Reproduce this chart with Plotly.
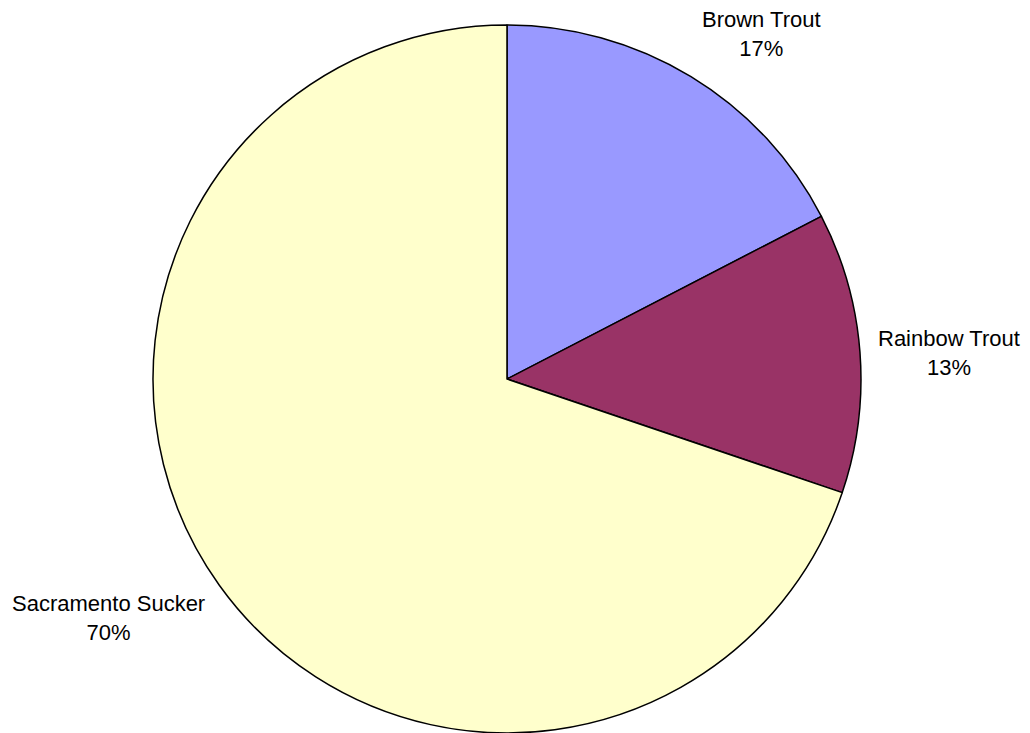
import plotly.graph_objects as go

species = ["Brown Trout", "Rainbow Trout", "Sacramento Sucker"]
shares = [17.4, 12.8, 69.8]
colors = ["#9999FF", "#993366", "#FFFFCC"]
label_x = [0.7431, 0.9285, 0.0996]
label_y = [0.9873, 0.5367, 0.1631]

fig = go.Figure(go.Pie(
    labels=species,
    values=shares,
    sort=False,
    direction="clockwise",
    rotation=0,
    textinfo="none",
    hoverinfo="label+percent",
    marker=dict(colors=colors, line=dict(color="black", width=1.5)),
    domain=dict(x=[0.1430, 0.8412], y=[0, 1]),
    showlegend=False,
))

total = sum(shares)
for name, v, x, y in zip(species, shares, label_x, label_y):
    fig.add_annotation(
        x=x, y=y, xref="paper", yref="paper",
        text=f"{name}<br>{round(100 * v / total)}%",
        showarrow=False, align="center",
        xanchor="center", yanchor="middle",
        font=dict(family="Liberation Sans, Arial, sans-serif", size=22, color="black"),
    )

fig.update_layout(
    width=1014, height=725,
    margin=dict(l=0, r=0, t=17, b=0),
    paper_bgcolor="white", plot_bgcolor="white",
)

fig.write_html("out.html")
